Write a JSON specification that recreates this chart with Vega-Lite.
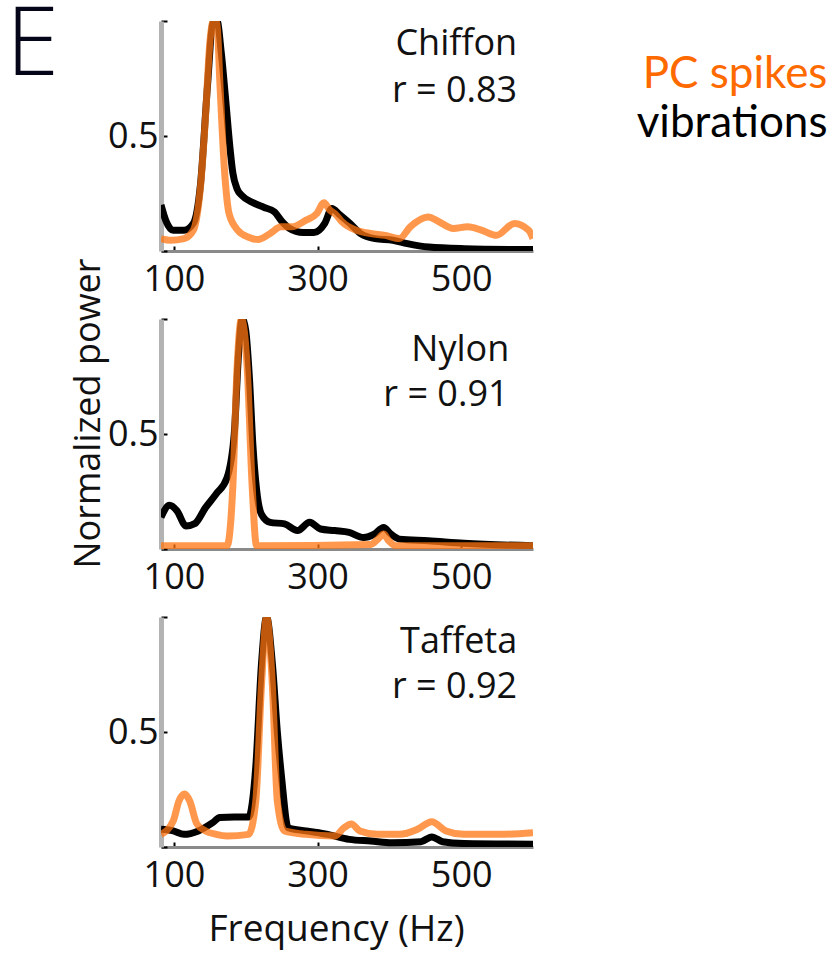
{
  "$schema": "https://vega.github.io/schema/vega-lite/v6.json",
  "autosize": {"type": "none"},
  "padding": {"left": 161, "top": 21, "right": 671, "bottom": 932},
  "background": "white",
  "bounds": "flush",
  "spacing": 68,
  "config": {
    "view": {"stroke": null},
    "font": "Open Sans",
    "axis": {"grid": false, "labelFont": "Open Sans", "titleFont": "Open Sans", "labelColor": "#111", "titleColor": "#111", "titleFontWeight": "normal"}
  },
  "datasets": {
    "spectra": [
      {"fabric": "Chiffon", "signal": "vibrations", "hz": 82, "power": 0.2},
      {"fabric": "Chiffon", "signal": "vibrations", "hz": 89, "power": 0.13},
      {"fabric": "Chiffon", "signal": "vibrations", "hz": 99, "power": 0.09},
      {"fabric": "Chiffon", "signal": "vibrations", "hz": 114, "power": 0.09},
      {"fabric": "Chiffon", "signal": "vibrations", "hz": 127, "power": 0.12},
      {"fabric": "Chiffon", "signal": "vibrations", "hz": 137, "power": 0.29},
      {"fabric": "Chiffon", "signal": "vibrations", "hz": 147, "power": 0.73},
      {"fabric": "Chiffon", "signal": "vibrations", "hz": 154, "power": 0.99},
      {"fabric": "Chiffon", "signal": "vibrations", "hz": 160, "power": 1.0},
      {"fabric": "Chiffon", "signal": "vibrations", "hz": 166, "power": 0.86},
      {"fabric": "Chiffon", "signal": "vibrations", "hz": 172, "power": 0.66},
      {"fabric": "Chiffon", "signal": "vibrations", "hz": 178, "power": 0.45},
      {"fabric": "Chiffon", "signal": "vibrations", "hz": 182, "power": 0.34},
      {"fabric": "Chiffon", "signal": "vibrations", "hz": 188, "power": 0.27},
      {"fabric": "Chiffon", "signal": "vibrations", "hz": 195, "power": 0.24},
      {"fabric": "Chiffon", "signal": "vibrations", "hz": 210, "power": 0.21},
      {"fabric": "Chiffon", "signal": "vibrations", "hz": 225, "power": 0.19},
      {"fabric": "Chiffon", "signal": "vibrations", "hz": 240, "power": 0.17},
      {"fabric": "Chiffon", "signal": "vibrations", "hz": 250, "power": 0.13},
      {"fabric": "Chiffon", "signal": "vibrations", "hz": 260, "power": 0.1},
      {"fabric": "Chiffon", "signal": "vibrations", "hz": 280, "power": 0.08},
      {"fabric": "Chiffon", "signal": "vibrations", "hz": 295, "power": 0.08},
      {"fabric": "Chiffon", "signal": "vibrations", "hz": 310, "power": 0.12},
      {"fabric": "Chiffon", "signal": "vibrations", "hz": 320, "power": 0.185},
      {"fabric": "Chiffon", "signal": "vibrations", "hz": 330, "power": 0.16},
      {"fabric": "Chiffon", "signal": "vibrations", "hz": 345, "power": 0.12},
      {"fabric": "Chiffon", "signal": "vibrations", "hz": 360, "power": 0.076},
      {"fabric": "Chiffon", "signal": "vibrations", "hz": 380, "power": 0.054},
      {"fabric": "Chiffon", "signal": "vibrations", "hz": 405, "power": 0.047},
      {"fabric": "Chiffon", "signal": "vibrations", "hz": 425, "power": 0.032},
      {"fabric": "Chiffon", "signal": "vibrations", "hz": 455, "power": 0.017},
      {"fabric": "Chiffon", "signal": "vibrations", "hz": 505, "power": 0.01},
      {"fabric": "Chiffon", "signal": "vibrations", "hz": 600, "power": 0.006},
      {"fabric": "Chiffon", "signal": "PC spikes", "hz": 82, "power": 0.054},
      {"fabric": "Chiffon", "signal": "PC spikes", "hz": 95, "power": 0.047},
      {"fabric": "Chiffon", "signal": "PC spikes", "hz": 114, "power": 0.054},
      {"fabric": "Chiffon", "signal": "PC spikes", "hz": 127, "power": 0.09},
      {"fabric": "Chiffon", "signal": "PC spikes", "hz": 137, "power": 0.28},
      {"fabric": "Chiffon", "signal": "PC spikes", "hz": 144, "power": 0.585},
      {"fabric": "Chiffon", "signal": "PC spikes", "hz": 150, "power": 0.905},
      {"fabric": "Chiffon", "signal": "PC spikes", "hz": 155, "power": 1.0},
      {"fabric": "Chiffon", "signal": "PC spikes", "hz": 160, "power": 0.99},
      {"fabric": "Chiffon", "signal": "PC spikes", "hz": 164, "power": 0.73},
      {"fabric": "Chiffon", "signal": "PC spikes", "hz": 170, "power": 0.37},
      {"fabric": "Chiffon", "signal": "PC spikes", "hz": 177, "power": 0.16},
      {"fabric": "Chiffon", "signal": "PC spikes", "hz": 189, "power": 0.09},
      {"fabric": "Chiffon", "signal": "PC spikes", "hz": 204, "power": 0.06},
      {"fabric": "Chiffon", "signal": "PC spikes", "hz": 217, "power": 0.05},
      {"fabric": "Chiffon", "signal": "PC spikes", "hz": 234, "power": 0.076},
      {"fabric": "Chiffon", "signal": "PC spikes", "hz": 249, "power": 0.105},
      {"fabric": "Chiffon", "signal": "PC spikes", "hz": 264, "power": 0.105},
      {"fabric": "Chiffon", "signal": "PC spikes", "hz": 284, "power": 0.134},
      {"fabric": "Chiffon", "signal": "PC spikes", "hz": 299, "power": 0.163},
      {"fabric": "Chiffon", "signal": "PC spikes", "hz": 309, "power": 0.21},
      {"fabric": "Chiffon", "signal": "PC spikes", "hz": 317, "power": 0.178},
      {"fabric": "Chiffon", "signal": "PC spikes", "hz": 325, "power": 0.16},
      {"fabric": "Chiffon", "signal": "PC spikes", "hz": 334, "power": 0.127},
      {"fabric": "Chiffon", "signal": "PC spikes", "hz": 354, "power": 0.09},
      {"fabric": "Chiffon", "signal": "PC spikes", "hz": 374, "power": 0.076},
      {"fabric": "Chiffon", "signal": "PC spikes", "hz": 394, "power": 0.068},
      {"fabric": "Chiffon", "signal": "PC spikes", "hz": 414, "power": 0.054},
      {"fabric": "Chiffon", "signal": "PC spikes", "hz": 429, "power": 0.105},
      {"fabric": "Chiffon", "signal": "PC spikes", "hz": 454, "power": 0.148},
      {"fabric": "Chiffon", "signal": "PC spikes", "hz": 469, "power": 0.127},
      {"fabric": "Chiffon", "signal": "PC spikes", "hz": 489, "power": 0.098},
      {"fabric": "Chiffon", "signal": "PC spikes", "hz": 509, "power": 0.105},
      {"fabric": "Chiffon", "signal": "PC spikes", "hz": 529, "power": 0.09},
      {"fabric": "Chiffon", "signal": "PC spikes", "hz": 549, "power": 0.068},
      {"fabric": "Chiffon", "signal": "PC spikes", "hz": 574, "power": 0.12},
      {"fabric": "Chiffon", "signal": "PC spikes", "hz": 594, "power": 0.09},
      {"fabric": "Chiffon", "signal": "PC spikes", "hz": 600, "power": 0.054},
      {"fabric": "Nylon", "signal": "vibrations", "hz": 82, "power": 0.138},
      {"fabric": "Nylon", "signal": "vibrations", "hz": 94, "power": 0.19},
      {"fabric": "Nylon", "signal": "vibrations", "hz": 104, "power": 0.167},
      {"fabric": "Nylon", "signal": "vibrations", "hz": 117, "power": 0.1},
      {"fabric": "Nylon", "signal": "vibrations", "hz": 129, "power": 0.11},
      {"fabric": "Nylon", "signal": "vibrations", "hz": 144, "power": 0.18},
      {"fabric": "Nylon", "signal": "vibrations", "hz": 159, "power": 0.24},
      {"fabric": "Nylon", "signal": "vibrations", "hz": 174, "power": 0.31},
      {"fabric": "Nylon", "signal": "vibrations", "hz": 184, "power": 0.5},
      {"fabric": "Nylon", "signal": "vibrations", "hz": 190, "power": 0.85},
      {"fabric": "Nylon", "signal": "vibrations", "hz": 195, "power": 1.0},
      {"fabric": "Nylon", "signal": "vibrations", "hz": 200, "power": 0.95},
      {"fabric": "Nylon", "signal": "vibrations", "hz": 205, "power": 0.75},
      {"fabric": "Nylon", "signal": "vibrations", "hz": 210, "power": 0.45},
      {"fabric": "Nylon", "signal": "vibrations", "hz": 215, "power": 0.26},
      {"fabric": "Nylon", "signal": "vibrations", "hz": 222, "power": 0.15},
      {"fabric": "Nylon", "signal": "vibrations", "hz": 234, "power": 0.116},
      {"fabric": "Nylon", "signal": "vibrations", "hz": 254, "power": 0.109},
      {"fabric": "Nylon", "signal": "vibrations", "hz": 272, "power": 0.08},
      {"fabric": "Nylon", "signal": "vibrations", "hz": 289, "power": 0.116},
      {"fabric": "Nylon", "signal": "vibrations", "hz": 304, "power": 0.087},
      {"fabric": "Nylon", "signal": "vibrations", "hz": 324, "power": 0.08},
      {"fabric": "Nylon", "signal": "vibrations", "hz": 344, "power": 0.072},
      {"fabric": "Nylon", "signal": "vibrations", "hz": 364, "power": 0.05},
      {"fabric": "Nylon", "signal": "vibrations", "hz": 379, "power": 0.065},
      {"fabric": "Nylon", "signal": "vibrations", "hz": 392, "power": 0.094},
      {"fabric": "Nylon", "signal": "vibrations", "hz": 402, "power": 0.065},
      {"fabric": "Nylon", "signal": "vibrations", "hz": 414, "power": 0.043},
      {"fabric": "Nylon", "signal": "vibrations", "hz": 454, "power": 0.036},
      {"fabric": "Nylon", "signal": "vibrations", "hz": 504, "power": 0.025},
      {"fabric": "Nylon", "signal": "vibrations", "hz": 600, "power": 0.014},
      {"fabric": "Nylon", "signal": "PC spikes", "hz": 82, "power": 0.014},
      {"fabric": "Nylon", "signal": "PC spikes", "hz": 174, "power": 0.014},
      {"fabric": "Nylon", "signal": "PC spikes", "hz": 182, "power": 0.27},
      {"fabric": "Nylon", "signal": "PC spikes", "hz": 188, "power": 0.79},
      {"fabric": "Nylon", "signal": "PC spikes", "hz": 194, "power": 1.0},
      {"fabric": "Nylon", "signal": "PC spikes", "hz": 202, "power": 0.79},
      {"fabric": "Nylon", "signal": "PC spikes", "hz": 209, "power": 0.27},
      {"fabric": "Nylon", "signal": "PC spikes", "hz": 215, "power": 0.014},
      {"fabric": "Nylon", "signal": "PC spikes", "hz": 374, "power": 0.02},
      {"fabric": "Nylon", "signal": "PC spikes", "hz": 384, "power": 0.043},
      {"fabric": "Nylon", "signal": "PC spikes", "hz": 392, "power": 0.065},
      {"fabric": "Nylon", "signal": "PC spikes", "hz": 399, "power": 0.036},
      {"fabric": "Nylon", "signal": "PC spikes", "hz": 409, "power": 0.014},
      {"fabric": "Nylon", "signal": "PC spikes", "hz": 600, "power": 0.014},
      {"fabric": "Taffeta", "signal": "vibrations", "hz": 82, "power": 0.077},
      {"fabric": "Taffeta", "signal": "vibrations", "hz": 99, "power": 0.07},
      {"fabric": "Taffeta", "signal": "vibrations", "hz": 114, "power": 0.055},
      {"fabric": "Taffeta", "signal": "vibrations", "hz": 134, "power": 0.07},
      {"fabric": "Taffeta", "signal": "vibrations", "hz": 154, "power": 0.106},
      {"fabric": "Taffeta", "signal": "vibrations", "hz": 164, "power": 0.128},
      {"fabric": "Taffeta", "signal": "vibrations", "hz": 184, "power": 0.13},
      {"fabric": "Taffeta", "signal": "vibrations", "hz": 204, "power": 0.13},
      {"fabric": "Taffeta", "signal": "vibrations", "hz": 214, "power": 0.35},
      {"fabric": "Taffeta", "signal": "vibrations", "hz": 222, "power": 0.8},
      {"fabric": "Taffeta", "signal": "vibrations", "hz": 229, "power": 1.0},
      {"fabric": "Taffeta", "signal": "vibrations", "hz": 237, "power": 0.8},
      {"fabric": "Taffeta", "signal": "vibrations", "hz": 244, "power": 0.5},
      {"fabric": "Taffeta", "signal": "vibrations", "hz": 250, "power": 0.3},
      {"fabric": "Taffeta", "signal": "vibrations", "hz": 259, "power": 0.084},
      {"fabric": "Taffeta", "signal": "vibrations", "hz": 284, "power": 0.07},
      {"fabric": "Taffeta", "signal": "vibrations", "hz": 314, "power": 0.055},
      {"fabric": "Taffeta", "signal": "vibrations", "hz": 344, "power": 0.033},
      {"fabric": "Taffeta", "signal": "vibrations", "hz": 374, "power": 0.026},
      {"fabric": "Taffeta", "signal": "vibrations", "hz": 404, "power": 0.019},
      {"fabric": "Taffeta", "signal": "vibrations", "hz": 444, "power": 0.023},
      {"fabric": "Taffeta", "signal": "vibrations", "hz": 459, "power": 0.044},
      {"fabric": "Taffeta", "signal": "vibrations", "hz": 474, "power": 0.023},
      {"fabric": "Taffeta", "signal": "vibrations", "hz": 504, "power": 0.015},
      {"fabric": "Taffeta", "signal": "vibrations", "hz": 600, "power": 0.012},
      {"fabric": "Taffeta", "signal": "PC spikes", "hz": 82, "power": 0.055},
      {"fabric": "Taffeta", "signal": "PC spikes", "hz": 99, "power": 0.113},
      {"fabric": "Taffeta", "signal": "PC spikes", "hz": 107, "power": 0.2},
      {"fabric": "Taffeta", "signal": "PC spikes", "hz": 115, "power": 0.23},
      {"fabric": "Taffeta", "signal": "PC spikes", "hz": 122, "power": 0.2},
      {"fabric": "Taffeta", "signal": "PC spikes", "hz": 132, "power": 0.1},
      {"fabric": "Taffeta", "signal": "PC spikes", "hz": 144, "power": 0.07},
      {"fabric": "Taffeta", "signal": "PC spikes", "hz": 159, "power": 0.055},
      {"fabric": "Taffeta", "signal": "PC spikes", "hz": 174, "power": 0.048},
      {"fabric": "Taffeta", "signal": "PC spikes", "hz": 204, "power": 0.055},
      {"fabric": "Taffeta", "signal": "PC spikes", "hz": 214, "power": 0.2},
      {"fabric": "Taffeta", "signal": "PC spikes", "hz": 222, "power": 0.71},
      {"fabric": "Taffeta", "signal": "PC spikes", "hz": 229, "power": 1.0},
      {"fabric": "Taffeta", "signal": "PC spikes", "hz": 237, "power": 0.71},
      {"fabric": "Taffeta", "signal": "PC spikes", "hz": 244, "power": 0.2},
      {"fabric": "Taffeta", "signal": "PC spikes", "hz": 254, "power": 0.07},
      {"fabric": "Taffeta", "signal": "PC spikes", "hz": 284, "power": 0.055},
      {"fabric": "Taffeta", "signal": "PC spikes", "hz": 324, "power": 0.048},
      {"fabric": "Taffeta", "signal": "PC spikes", "hz": 337, "power": 0.084},
      {"fabric": "Taffeta", "signal": "PC spikes", "hz": 347, "power": 0.1},
      {"fabric": "Taffeta", "signal": "PC spikes", "hz": 359, "power": 0.07},
      {"fabric": "Taffeta", "signal": "PC spikes", "hz": 384, "power": 0.055},
      {"fabric": "Taffeta", "signal": "PC spikes", "hz": 414, "power": 0.055},
      {"fabric": "Taffeta", "signal": "PC spikes", "hz": 439, "power": 0.077},
      {"fabric": "Taffeta", "signal": "PC spikes", "hz": 459, "power": 0.11},
      {"fabric": "Taffeta", "signal": "PC spikes", "hz": 479, "power": 0.07},
      {"fabric": "Taffeta", "signal": "PC spikes", "hz": 504, "power": 0.055},
      {"fabric": "Taffeta", "signal": "PC spikes", "hz": 554, "power": 0.055},
      {"fabric": "Taffeta", "signal": "PC spikes", "hz": 600, "power": 0.062}
    ],
    "notes": [
      {"fabric": "Chiffon", "label": "Chiffon", "hz": 578, "power": 0.852},
      {"fabric": "Chiffon", "label": "r = 0.83", "hz": 578, "power": 0.648},
      {"fabric": "Nylon", "label": "Nylon", "hz": 567, "power": 0.817},
      {"fabric": "Nylon", "label": "r = 0.91", "hz": 566, "power": 0.622},
      {"fabric": "Taffeta", "label": "Taffeta", "hz": 578, "power": 0.843},
      {"fabric": "Taffeta", "label": "r = 0.92", "hz": 578, "power": 0.646}
    ],
    "key": [
      {"label": "PC spikes", "hz": 1010, "power": 0.709},
      {"label": "vibrations", "hz": 1010, "power": 0.496}
    ],
    "panelTag": [
      {"label": "E", "hz": -134, "power": 0.765}
    ]
  },
  "vconcat": [
    {
      "width": 372, "height": 230,
      "layer": [
        {
          "data": {"name": "spectra"},
          "transform": [{"filter": "datum.fabric === 'Chiffon' && datum.signal === 'vibrations'"}],
          "mark": {"type": "line", "color": "#000000", "strokeWidth": 7, "clip": true, "interpolate": "monotone", "strokeJoin": "round"},
          "encoding": {
            "x": {"field": "hz", "type": "quantitative", "scale": {"domain": [82, 600], "nice": false, "zero": false},
                  "axis": {"values": [100, 300, 500], "format": "d", "title": null, "domainColor": "#8a8a8a", "domainWidth": 3, "tickColor": "#000", "tickWidth": 2, "tickSize": -5, "labelFontSize": 36, "labelPadding": 16, "labelFlush": false, "labelOverlap": false}},
            "y": {"field": "power", "type": "quantitative", "scale": {"domain": [0, 1], "nice": false},
                  "axis": {"values": [0, 0.5, 1], "labelExpr": "datum.value === 0.5 ? '0.5' : ''", "title": null, "domainColor": "#b3b3b3", "domainWidth": 5, "tickColor": "#000", "tickWidth": 2, "tickSize": -6, "labelFontSize": 36, "labelPadding": 9}}
          }
        },
        {
          "data": {"name": "spectra"},
          "transform": [{"filter": "datum.fabric === 'Chiffon' && datum.signal === 'PC spikes'"}],
          "mark": {"type": "line", "color": "#ff7510", "opacity": 0.75, "strokeWidth": 7, "clip": true, "interpolate": "monotone", "strokeJoin": "round"},
          "encoding": {"x": {"field": "hz", "type": "quantitative"}, "y": {"field": "power", "type": "quantitative"}}
        },
        {
          "data": {"name": "notes"},
          "transform": [{"filter": "datum.fabric === 'Chiffon'"}],
          "mark": {"type": "text", "align": "right", "baseline": "alphabetic", "fontSize": 36, "color": "#111", "font": "Open Sans"},
          "encoding": {"x": {"field": "hz", "type": "quantitative"}, "y": {"field": "power", "type": "quantitative"}, "text": {"field": "label"}}
        },
        {
          "data": {"name": "key"},
          "mark": {"type": "text", "align": "right", "baseline": "alphabetic", "fontSize": 44, "font": "Lato"},
          "encoding": {
            "x": {"field": "hz", "type": "quantitative"},
            "y": {"field": "power", "type": "quantitative"},
            "text": {"field": "label"},
            "color": {"field": "label", "type": "nominal", "scale": {"domain": ["PC spikes", "vibrations"], "range": ["#ff6a00", "#000000"]}, "legend": null}
          }
        },
        {
          "data": {"name": "panelTag"},
          "mark": {"type": "text", "align": "left", "baseline": "alphabetic", "fontSize": 96, "fontWeight": 300, "font": "Open Sans", "color": "#05051a"},
          "encoding": {"x": {"field": "hz", "type": "quantitative"}, "y": {"field": "power", "type": "quantitative"}, "text": {"field": "label"}}
        }
      ]
    },
    {
      "width": 372, "height": 230,
      "layer": [
        {
          "data": {"name": "spectra"},
          "transform": [{"filter": "datum.fabric === 'Nylon' && datum.signal === 'vibrations'"}],
          "mark": {"type": "line", "color": "#000000", "strokeWidth": 7, "clip": true, "interpolate": "monotone", "strokeJoin": "round"},
          "encoding": {
            "x": {"field": "hz", "type": "quantitative", "scale": {"domain": [82, 600], "nice": false, "zero": false},
                  "axis": {"values": [100, 300, 500], "format": "d", "title": null, "domainColor": "#8a8a8a", "domainWidth": 3, "tickColor": "#000", "tickWidth": 2, "tickSize": -5, "labelFontSize": 36, "labelPadding": 16, "labelFlush": false, "labelOverlap": false}},
            "y": {"field": "power", "type": "quantitative", "scale": {"domain": [0, 1], "nice": false},
                  "axis": {"values": [0, 0.5, 1], "labelExpr": "datum.value === 0.5 ? '0.5' : ''", "title": "Normalized power", "titleFontSize": 36, "titlePadding": 0, "titleY": 94, "domainColor": "#b3b3b3", "domainWidth": 5, "tickColor": "#000", "tickWidth": 2, "tickSize": -6, "labelFontSize": 36, "labelPadding": 9}}
          }
        },
        {
          "data": {"name": "spectra"},
          "transform": [{"filter": "datum.fabric === 'Nylon' && datum.signal === 'PC spikes'"}],
          "mark": {"type": "line", "color": "#ff7510", "opacity": 0.75, "strokeWidth": 7, "clip": true, "interpolate": "monotone", "strokeJoin": "round"},
          "encoding": {"x": {"field": "hz", "type": "quantitative"}, "y": {"field": "power", "type": "quantitative"}}
        },
        {
          "data": {"name": "notes"},
          "transform": [{"filter": "datum.fabric === 'Nylon'"}],
          "mark": {"type": "text", "align": "right", "baseline": "alphabetic", "fontSize": 36, "color": "#111", "font": "Open Sans"},
          "encoding": {"x": {"field": "hz", "type": "quantitative"}, "y": {"field": "power", "type": "quantitative"}, "text": {"field": "label"}}
        }
      ]
    },
    {
      "width": 372, "height": 230,
      "layer": [
        {
          "data": {"name": "spectra"},
          "transform": [{"filter": "datum.fabric === 'Taffeta' && datum.signal === 'vibrations'"}],
          "mark": {"type": "line", "color": "#000000", "strokeWidth": 7, "clip": true, "interpolate": "monotone", "strokeJoin": "round"},
          "encoding": {
            "x": {"field": "hz", "type": "quantitative", "scale": {"domain": [82, 600], "nice": false, "zero": false},
                  "axis": {"values": [100, 300, 500], "format": "d", "title": "Frequency (Hz)", "titleFontSize": 37, "titleX": 175, "titlePadding": 18, "domainColor": "#8a8a8a", "domainWidth": 3, "tickColor": "#000", "tickWidth": 2, "tickSize": -5, "labelFontSize": 36, "labelPadding": 16, "labelFlush": false, "labelOverlap": false}},
            "y": {"field": "power", "type": "quantitative", "scale": {"domain": [0, 1], "nice": false},
                  "axis": {"values": [0, 0.5, 1], "labelExpr": "datum.value === 0.5 ? '0.5' : ''", "title": null, "domainColor": "#b3b3b3", "domainWidth": 5, "tickColor": "#000", "tickWidth": 2, "tickSize": -6, "labelFontSize": 36, "labelPadding": 9}}
          }
        },
        {
          "data": {"name": "spectra"},
          "transform": [{"filter": "datum.fabric === 'Taffeta' && datum.signal === 'PC spikes'"}],
          "mark": {"type": "line", "color": "#ff7510", "opacity": 0.75, "strokeWidth": 7, "clip": true, "interpolate": "monotone", "strokeJoin": "round"},
          "encoding": {"x": {"field": "hz", "type": "quantitative"}, "y": {"field": "power", "type": "quantitative"}}
        },
        {
          "data": {"name": "notes"},
          "transform": [{"filter": "datum.fabric === 'Taffeta'"}],
          "mark": {"type": "text", "align": "right", "baseline": "alphabetic", "fontSize": 36, "color": "#111", "font": "Open Sans"},
          "encoding": {"x": {"field": "hz", "type": "quantitative"}, "y": {"field": "power", "type": "quantitative"}, "text": {"field": "label"}}
        }
      ]
    }
  ]
}
